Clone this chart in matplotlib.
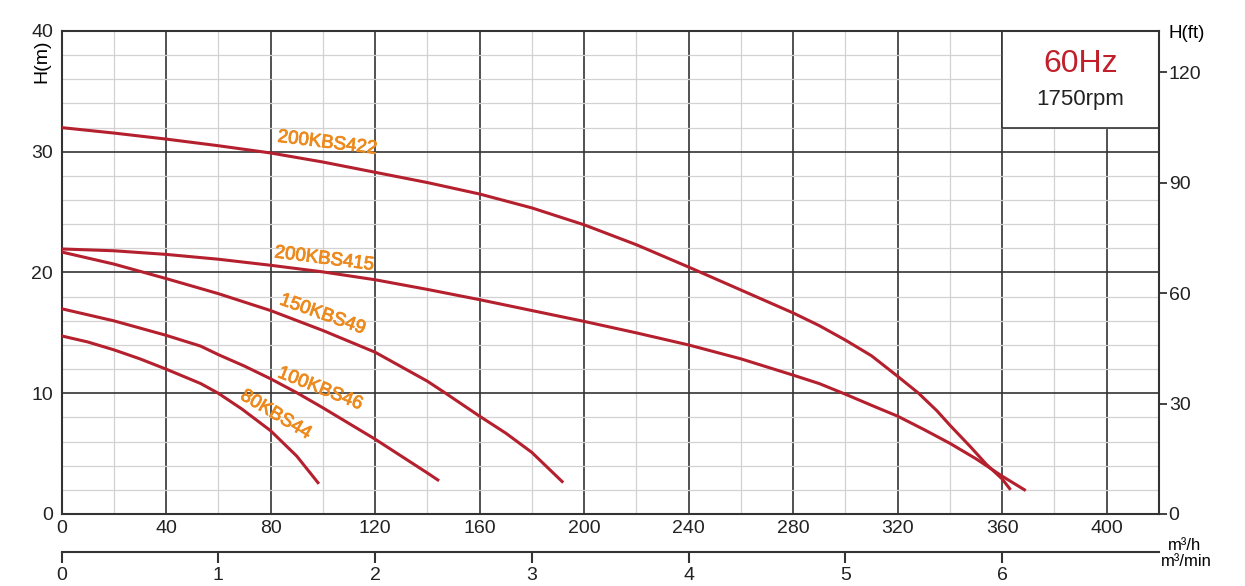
import matplotlib
matplotlib.use("Agg")
import matplotlib.pyplot as plt
import matplotlib.patheffects as pe
from matplotlib.patches import Rectangle

plt.rcParams['font.family'] = ['Liberation Sans', 'DejaVu Sans']

# Pump curves: flow Q (m3/h) vs head H (m)
q_422 = [0, 20, 40, 60, 80, 100, 120, 140, 160, 180, 200, 220, 240, 260, 280, 290, 300, 310, 320,
         328, 335, 340, 347.7, 354, 360, 363.2]
h_422 = [32.0, 31.55, 31.05, 30.5, 29.9, 29.15, 28.3, 27.45, 26.5, 25.35, 23.95, 22.3, 20.45, 18.55, 16.65, 15.6, 14.4, 13.1, 11.4,
         10.0, 8.55, 7.35, 5.6, 4.1, 2.9, 2.0]

q_415 = [0, 20, 40, 60, 80, 100, 120, 140, 160, 180, 200, 220, 240, 260, 280, 290, 300, 310, 320, 330, 340, 350, 360, 369]
h_415 = [21.95, 21.8, 21.5, 21.1, 20.6, 20.05, 19.4, 18.6, 17.75, 16.85, 15.95, 15.0, 14.0, 12.85, 11.5, 10.8, 9.92, 9.0, 8.1, 7.0, 5.85, 4.57, 3.13, 1.94]

q_49 = [0, 20, 40, 60, 80, 100, 120, 140, 147, 160, 170, 180, 192]
h_49 = [21.7, 20.7, 19.5, 18.25, 16.85, 15.2, 13.4, 11.0, 10.0, 8.1, 6.7, 5.1, 2.6]

q_46 = [0, 20, 40, 53.3, 60, 70, 80, 90, 100, 110, 120, 130, 140, 144.5]
h_46 = [17.0, 16.0, 14.8, 13.9, 13.2, 12.25, 11.2, 10.05, 8.8, 7.5, 6.2, 4.8, 3.4, 2.75]

q_44 = [0, 10, 20, 30, 40, 53.3, 60, 69, 80, 90, 98.5]
h_44 = [14.75, 14.25, 13.6, 12.85, 12.0, 10.8, 10.0, 8.7, 6.9, 4.8, 2.5]

curves = [(q_422, h_422), (q_415, h_415), (q_49, h_49), (q_46, h_46), (q_44, h_44)]

# label text, position (Q, H), rotation
labels = ["200KBS422", "200KBS415", "150KBS49", "100KBS46", "80KBS44"]
label_q = [101.8, 100.6, 99.9, 99.0, 82.0]
label_h = [30.7, 21.1, 16.5, 10.35, 8.2]
label_rot = [-7, -7.3, -19.5, -21.5, -31]

x_ticks = [0, 40, 80, 120, 160, 200, 240, 280, 320, 360, 400]
y_ticks = [0, 10, 20, 30, 40]
ft_ticks = [0, 30, 60, 90, 120]
min_ticks = [0, 1, 2, 3, 4, 5, 6]

RED = '#b5202e'
ORANGE = '#ec8a1e'
DARK = '#333333'

W, H = 1245, 586
fig = plt.figure(figsize=(W / 100, H / 100), dpi=100)
left, right, top, bottom = 61.5, 1159, 31, 514
ax = fig.add_axes([left / W, 1 - bottom / H, (right - left) / W, (bottom - top) / H])

ax.set_xlim(0, 420)
ax.set_ylim(0, 40)
ax.set_xticks(x_ticks)
ax.set_xticks(range(20, 420, 40), minor=True)
ax.set_yticks(y_ticks)
ax.set_yticks(range(2, 40, 2), minor=True)
ax.grid(which='major', color=DARK, lw=1.2)
ax.grid(which='minor', color='#d2d2d2', lw=0.9)
ax.set_axisbelow(True)
ax.tick_params(which='both', length=0, labelsize=14, labelcolor='#222222')
ax.tick_params(axis='x', pad=4)
ax.tick_params(axis='y', pad=6)
for s in ax.spines.values():
    s.set_color(DARK)
    s.set_linewidth(1.5)

# info box covering the grid in the top-right corner
ax.add_patch(Rectangle((360, 32), 60, 8, facecolor='white', edgecolor=DARK, lw=1.2, zorder=1))
ax.text(390, 37.3, "60Hz", color='#c11f2a', fontsize=23, ha='center', va='center')
ax.text(390, 34.3, "1750rpm", color='#222222', fontsize=16, ha='center', va='center')

for q, h in curves:
    ax.plot(q, h, color=RED, lw=2.2, solid_capstyle='butt', solid_joinstyle='round', zorder=3)

for name, lq, lh, rot in zip(labels, label_q, label_h, label_rot):
    ax.text(lq, lh, name, color=ORANGE, fontsize=13.5, rotation=rot,
            rotation_mode='anchor', ha='center', va='center', zorder=4,
            path_effects=[pe.withStroke(linewidth=0.6, foreground=ORANGE)])

# right axis in feet
axr = ax.twinx()
axr.set_ylim(0, 40 * 3.28084)
axr.set_yticks(ft_ticks)
axr.tick_params(direction='out', length=6, width=1.3, color=DARK, labelsize=14, labelcolor='#222222', pad=1)
for s in axr.spines.values():
    s.set_visible(False)

fig.text(42 / W, 1 - 61 / H, "H(m)", rotation=90, fontsize=14, ha='center', va='center')
fig.text(1187 / W, 1 - 34 / H, "H(ft)", fontsize=13.5, ha='center', va='center')
fig.text(1185 / W, 1 - 546 / H, "m³/h", fontsize=12, ha='center', va='center')
fig.text(1186 / W, 1 - 562 / H, "m³/min", fontsize=12, ha='center', va='center')

# second flow axis in m3/min
ax2 = fig.add_axes([left / W, 1 - 551.5 / H, (right - left) / W, 0.0001])
ax2.set_xlim(0, 7)
ax2.set_xticks(min_ticks)
ax2.set_yticks([])
ax2.patch.set_visible(False)
for k in ['top', 'left', 'right']:
    ax2.spines[k].set_visible(False)
ax2.spines['bottom'].set_color(DARK)
ax2.spines['bottom'].set_linewidth(1.5)
ax2.tick_params(direction='out', length=8, width=1.5, color=DARK, labelsize=14, labelcolor='#222222', pad=3)

fig.savefig("out.png", dpi=100)
